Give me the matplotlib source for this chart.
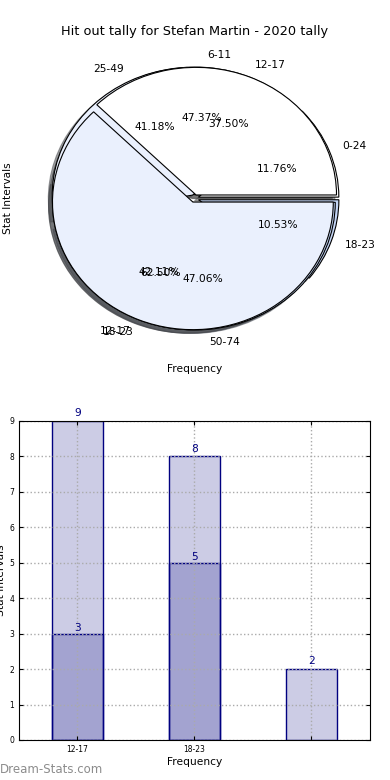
import numpy as np
import matplotlib
matplotlib.use('Agg')
import matplotlib.pyplot as plt

# pie data (three pies drawn on the same axes)
pie_a_labels = ['6-11', '12-17', '18-23']
pie_a_values = [9, 8, 2]
pie_b_labels = ['0-24', '25-49', '50-74']
pie_b_values = [2, 7, 8]
pie_c_labels = ['12-17', '18-23']
pie_c_values = [3, 5]

# bar data
bar_ticks = ['12-17', '18-23', '']
bar_outer = [9, 8, 2]
bar_inner = [3, 5]

pie_colors = ['white', '#eaf0fd', '#c4d5f5']
navy_fill = (0, 0, 0.5, 0.2)

fig = plt.figure(figsize=(3.9, 7.8), dpi=100)

ax1 = fig.add_axes([0.0487, 0.541, 0.9, 0.409])
for vals, labs in [(pie_a_values, pie_a_labels),
                   (pie_b_values, pie_b_labels),
                   (pie_c_values, pie_c_labels)]:
    ax1.pie(vals, labels=labs, autopct='%1.2f%%', explode=[0.03] * len(vals),
            shadow=True, colors=pie_colors,
            wedgeprops=dict(edgecolor='black', linewidth=0.8),
            textprops=dict(fontsize=7.7))
ax1.set_aspect('auto')
ax1.set_xlim(-1.25, 1.25)
ax1.set_ylim(-1.25, 1.25)
ax1.set_title('Hit out tally for Stefan Martin - 2020 tally', fontsize=9.3, pad=3)
ax1.set_xlabel('Frequency', fontsize=7.7)
ax1.set_ylabel('Stat Intervals', fontsize=7.7)

ax2 = fig.add_axes([0.0487, 0.0513, 0.9, 0.409])
x = np.arange(len(bar_outer))
ax2.bar(x, bar_outer, width=0.44, facecolor=navy_fill, edgecolor='navy', linewidth=1)
ax2.bar(x[:len(bar_inner)], bar_inner, width=0.44, facecolor=navy_fill,
        edgecolor='navy', linewidth=1)
for xi, v in zip(x, bar_outer):
    ax2.text(xi, v + 0.08, str(v), ha='center', va='bottom', color='navy', fontsize=7.7)
for xi, v in zip(x, bar_inner):
    ax2.text(xi, v + 0.02, str(v), ha='center', va='bottom', color='navy', fontsize=7.7)
ax2.set_xlim(-0.5, 2.5)
ax2.set_ylim(0, 9)
ax2.set_xticks(x)
ax2.set_xticklabels(bar_ticks)
ax2.set_yticks(range(10))
ax2.tick_params(labelsize=5.5, direction='in', top=True, right=True, length=3)
ax2.grid(True, linestyle=':', color='#aaaaaa', linewidth=1)
ax2.set_axisbelow(False)
for sp in ax2.spines.values():
    sp.set_zorder(4)
ax2.set_xlabel('Frequency', fontsize=7.7, labelpad=2)
ax2.set_ylabel('Stat Intervals', fontsize=7.7, labelpad=2)

fig.text(0.0, 0.005, 'Dream-Stats.com', color='#8c8c8c', fontsize=8.5,
         ha='left', va='bottom')

fig.savefig('out.png', dpi=100)
